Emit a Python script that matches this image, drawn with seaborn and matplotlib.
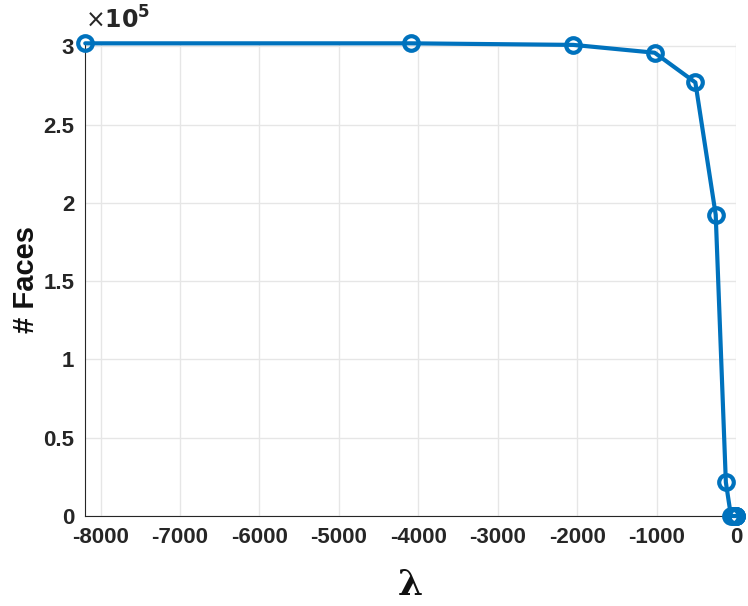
import numpy as np
import pandas as pd
import matplotlib
matplotlib.use("Agg")
import matplotlib.pyplot as plt
import seaborn as sns
from matplotlib.ticker import FuncFormatter

# lambda values and face counts
lambdas = [-8192, -4096, -2048, -1024, -512, -256, -128, -64, -32, -16, -8, -4, -2, -1]
faces = [3.02e5, 3.02e5, 3.01e5, 2.96e5, 2.77e5, 1.925e5, 0.215e5, 0, 0, 0, 0, 0, 0, 0]
xticks = [-8000, -7000, -6000, -5000, -4000, -3000, -2000, -1000, 0]
yticks = [0, 0.5e5, 1e5, 1.5e5, 2e5, 2.5e5, 3e5]

df = pd.DataFrame({"lambda": lambdas, "faces": faces})

sns.set_style("white")
plt.rcParams['font.family'] = ['Liberation Sans', 'DejaVu Sans']
plt.rcParams['axes.unicode_minus'] = False

fig = plt.figure(figsize=(7.48, 6.06), dpi=100)
ax = fig.add_axes([0.114, 0.1485, 0.87, 0.78])

sns.lineplot(data=df, x="lambda", y="faces", ax=ax, color="#0072BD",
             linewidth=3.0, marker="o", markersize=10.5, markerfacecolor="none",
             markeredgecolor="#0072BD", markeredgewidth=3.0, sort=False,
             clip_on=False, zorder=5)

ax.set_xlim(-8192, 0)
ax.set_ylim(0, 3.02e5)
ax.set_xticks(xticks)
ax.set_yticks(yticks)
ax.yaxis.set_major_formatter(FuncFormatter(lambda v, p: "%g" % (v / 1e5)))
ax.grid(True, color="#e6e6e6", linewidth=1)
ax.tick_params(direction="in", length=5, width=0.8, color="#262626",
               labelsize=16, labelcolor="#262626")
ax.tick_params(axis="x", pad=8)
ax.tick_params(axis="y", pad=8)
for lab in ax.get_xticklabels() + ax.get_yticklabels():
    lab.set_fontweight("bold")

for s in ["top", "right"]:
    ax.spines[s].set_visible(False)
for s in ["left", "bottom"]:
    ax.spines[s].set_color("#262626")
    ax.spines[s].set_linewidth(0.8)

ax.set_xlabel("λ", fontsize=26, fontweight="bold", labelpad=14, color="#111111",
              family="DejaVu Serif")
ax.set_ylabel("# Faces", fontsize=21, fontweight="bold", labelpad=2, color="#111111")

ax.text(0.0, 1.02, r"$\times\mathbf{10^{5}}$", transform=ax.transAxes,
        fontsize=17, color="#262626", ha="left", va="bottom")

fig.savefig("out.png", dpi=100)
